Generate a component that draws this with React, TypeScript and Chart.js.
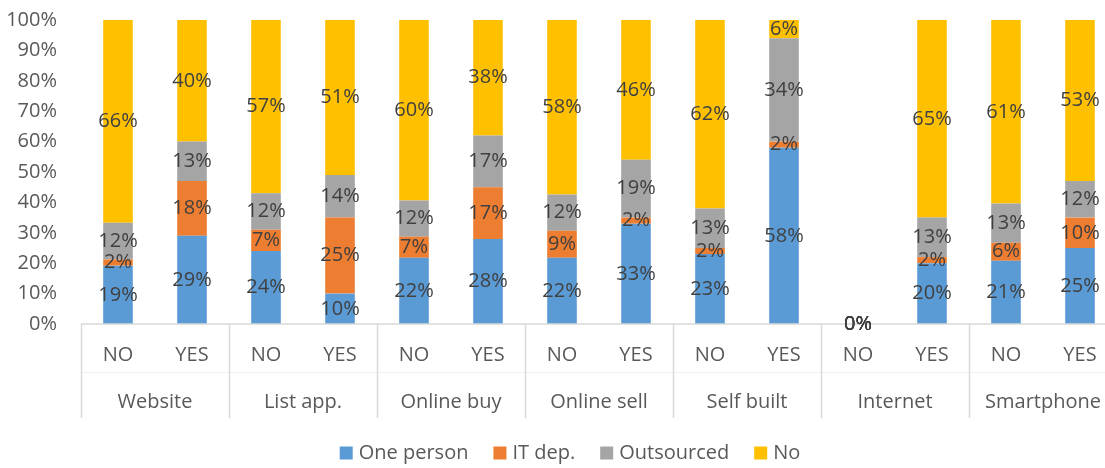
import React, { useEffect, useRef } from 'react';
import { Chart, registerables } from 'chart.js';

Chart.register(...registerables);

const FONT = '"Open Sans", "Noto Sans", sans-serif';

const groups = ['Website', 'List app.', 'Online buy', 'Online sell', 'Self built', 'Internet', 'Smartphone'];
const answers = ['NO', 'YES'];
const xLabels = groups.flatMap(() => answers);

const seriesNames = ['One person', 'IT dep.', 'Outsourced', 'No'];
const seriesColors = ['#5B9BD5', '#ED7D31', '#A5A5A5', '#FFC000'];

const onePerson = [19, 29, 24, 10, 22, 28, 22, 33, 23, 58, 0, 20, 21, 25];
const itDep = [2, 18, 7, 25, 7, 17, 9, 2, 2, 2, 0, 2, 6, 10];
const outsourced = [12, 13, 12, 14, 12, 17, 12, 19, 13, 34, 0, 13, 13, 12];
const noSeries = [66, 40, 57, 51, 60, 38, 58, 46, 62, 6, 0, 65, 61, 53];

const rawSeries = [onePerson, itDep, outsourced, noSeries];

const yMin = 0;
const yMax = 100;
const yStep = 10;

const totals = xLabels.map((_, i) => rawSeries.reduce((s, arr) => s + arr[i], 0));
const normalized = rawSeries.map((arr) => arr.map((v, i) => (totals[i] > 0 ? (v / totals[i]) * 100 : 0)));

const overlayPlugin = {
  id: 'overlay',
  afterDraw(chart: any) {
    const ctx = chart.ctx as CanvasRenderingContext2D;
    const { left, right, bottom } = chart.chartArea;
    const xScale = chart.scales.x;
    ctx.save();

    // faint row divider
    ctx.strokeStyle = '#F0F0F0';
    ctx.lineWidth = 1;
    ctx.beginPath();
    ctx.moveTo(left, bottom + 48.5);
    ctx.lineTo(right, bottom + 48.5);
    ctx.stroke();

    // axis line and group separators
    ctx.strokeStyle = '#D9D9D9';
    ctx.lineWidth = 1.5;
    ctx.beginPath();
    ctx.moveTo(left, bottom);
    ctx.lineTo(right, bottom);
    ctx.stroke();
    const gw = (right - left) / groups.length;
    for (let k = 0; k <= groups.length; k++) {
      const x = Math.round(left + k * gw) + 0.5;
      ctx.beginPath();
      ctx.moveTo(x, bottom);
      ctx.lineTo(x, bottom + 94);
      ctx.stroke();
    }

    // category labels
    ctx.font = `20px ${FONT}`;
    ctx.fillStyle = '#595959';
    ctx.textAlign = 'center';
    ctx.textBaseline = 'middle';
    xLabels.forEach((lab, i) => {
      ctx.fillText(lab, xScale.getPixelForValue(i), bottom + 31);
    });
    groups.forEach((g, k) => {
      ctx.fillText(g, left + (k + 0.5) * gw, bottom + 78);
    });

    // data labels
    ctx.fillStyle = '#404040';
    chart.data.datasets.forEach((_: any, di: number) => {
      const meta = chart.getDatasetMeta(di);
      meta.data.forEach((el: any, i: number) => {
        const { x, y, base } = el.getProps(['x', 'y', 'base'], true);
        ctx.fillText(`${rawSeries[di][i]}%`, x, (y + base) / 2);
      });
    });

    // legend
    const box = 13;
    const gapBT = 6;
    const gapItem = 25;
    const widths = seriesNames.map((n) => ctx.measureText(n).width);
    const total = widths.reduce((s, w) => s + box + gapBT + w, 0) + gapItem * (seriesNames.length - 1);
    let lx = 570 - total / 2;
    const ly = 453;
    ctx.textAlign = 'left';
    seriesNames.forEach((n, i) => {
      ctx.fillStyle = seriesColors[i];
      ctx.fillRect(lx, ly - box / 2, box, box);
      lx += box + gapBT;
      ctx.fillStyle = '#595959';
      ctx.fillText(n, lx, ly);
      lx += widths[i] + gapItem;
    });

    ctx.restore();
  },
};

export default function App() {
  const ref = useRef<HTMLCanvasElement | null>(null);

  useEffect(() => {
    if (!ref.current) return;
    const chart = new Chart(ref.current, {
      type: 'bar',
      data: {
        labels: xLabels,
        datasets: seriesNames.map((name, i) => ({
          label: name,
          data: normalized[i],
          backgroundColor: seriesColors[i],
          borderWidth: 0,
          categoryPercentage: 1,
          barPercentage: 0.4,
        })),
      },
      options: {
        responsive: false,
        animation: false,
        layout: { padding: { top: 0, right: 13, bottom: 144, left: 0 } },
        plugins: {
          legend: { display: false },
          tooltip: { enabled: false },
        },
        scales: {
          x: {
            stacked: true,
            display: false,
          },
          y: {
            stacked: true,
            min: yMin,
            max: yMax,
            grid: { display: false, tickLength: 16 },
            border: { display: false },
            ticks: {
              stepSize: yStep,
              padding: 8,
              color: '#595959',
              font: { family: FONT, size: 20 },
              callback: (v: any) => `${v}%`,
            },
            afterFit: (s: any) => {
              s.width = 81;
            },
          },
        },
      },
      plugins: [overlayPlugin],
    } as any);
    return () => chart.destroy();
  }, []);

  return (
    <div style={{ position: 'absolute', left: 0, top: 0, width: 1105, height: 468, overflow: 'hidden', background: '#fff' }}>
      <canvas ref={ref} width={1130} height={468} style={{ display: 'block' }} />
    </div>
  );
}
